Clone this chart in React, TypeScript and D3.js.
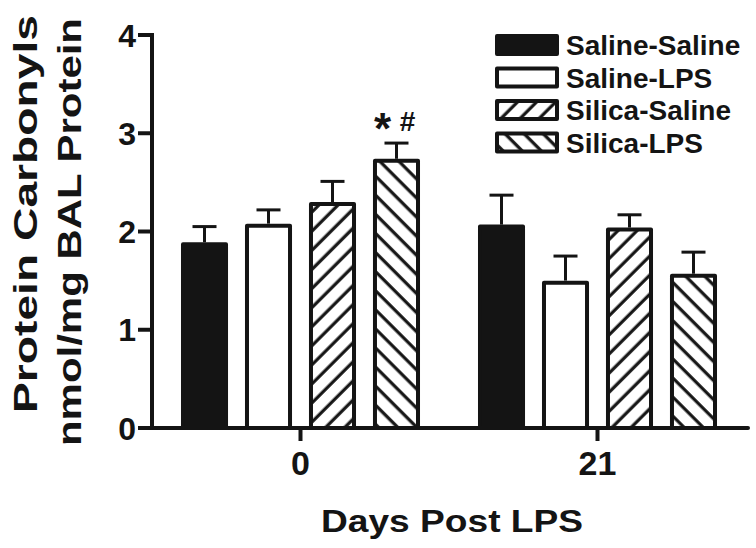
import React from 'react';
import * as d3 from 'd3';

const groups = ['0', '21'];
const series = ['Saline-Saline', 'Saline-LPS', 'Silica-Saline', 'Silica-LPS'];
const meansDay0 = [1.89, 2.08, 2.3, 2.74];
const meansDay21 = [2.07, 1.5, 2.04, 1.57];
const semDay0 = [0.16, 0.14, 0.21, 0.16];
const semDay21 = [0.3, 0.25, 0.13, 0.22];
const yTicks = [0, 1, 2, 3, 4];
const fills = ['solid', 'white', 'hatchUp', 'hatchDown'];
const yTitleLines = ['Protein Carbonyls', 'nmol/mg BAL Protein'];
const xTitle = 'Days Post LPS';

const W = 756;
const H = 548;
const FONT = "'Liberation Sans', Arial, Helvetica, sans-serif";
const INK = '#141414';

export default function App() {
  const x0 = d3.scaleBand<string>().domain(groups).range([152, 746]).padding(0);
  const x1 = d3
    .scaleBand<string>()
    .domain(series)
    .range([0, x0.bandwidth()])
    .paddingInner(0.265)
    .paddingOuter(0.453);
  const y = d3.scaleLinear().domain([0, 4]).range([428, 35]);

  const rows = groups.flatMap((g, gi) =>
    series.map((s, si) => ({
      g,
      s,
      si,
      v: gi === 0 ? meansDay0[si] : meansDay21[si],
      e: gi === 0 ? semDay0[si] : semDay21[si],
    }))
  );

  const fillOf = (si: number) =>
    fills[si] === 'solid' ? INK : fills[si] === 'white' ? '#fff' : `url(#${fills[si]})`;

  const bw = x1.bandwidth();
  const legendY = (i: number) => 45 + i * 32.5;

  return (
    <svg width={W} height={H} style={{ position: 'absolute', left: 0, top: 0, background: '#fff' }}>
      <defs>
        <pattern id="hatchUp" patternUnits="userSpaceOnUse" width={13.5} height={13.5} patternTransform="rotate(45)">
          <rect width={13.5} height={13.5} fill="#fff" />
          <line x1={6} y1={-2} x2={6} y2={16} stroke={INK} strokeWidth={3.2} />
        </pattern>
        <pattern id="hatchDown" patternUnits="userSpaceOnUse" width={13.5} height={13.5} patternTransform="rotate(-45)">
          <rect width={13.5} height={13.5} fill="#fff" />
          <line x1={6} y1={-2} x2={6} y2={16} stroke={INK} strokeWidth={3.2} />
        </pattern>
      </defs>

      {/* error bars */}
      {rows.map((r) => {
        const cx = (x0(r.g) as number) + (x1(r.s) as number) + bw / 2;
        return (
          <g key={`e-${r.g}-${r.s}`} stroke={INK} strokeWidth={3}>
            <line x1={cx} x2={cx} y1={y(r.v)} y2={y(r.v + r.e)} />
            <line x1={cx - 12} x2={cx + 12} y1={y(r.v + r.e)} y2={y(r.v + r.e)} />
          </g>
        );
      })}

      {/* bars */}
      {rows.map((r) => {
        const bx = (x0(r.g) as number) + (x1(r.s) as number);
        return (
          <rect
            key={`b-${r.g}-${r.s}`}
            x={bx + 2}
            y={y(r.v) + 2}
            width={bw - 4}
            height={y(0) - y(r.v) - 2}
            fill={fillOf(r.si)}
            stroke={INK}
            strokeWidth={4}
            strokeLinejoin="round"
          />
        );
      })}

      {/* annotation */}
      {(() => {
        const cx = (x0('0') as number) + (x1('Silica-LPS') as number) + bw / 2;
        return (
          <g fill={INK} fontFamily={FONT} fontWeight="bold">
            <text x={cx - 14} y={144} fontSize={44} textAnchor="middle">*</text>
            <text x={cx + 11} y={131} fontSize={28} textAnchor="middle">#</text>
          </g>
        );
      })()}

      {/* y axis */}
      <line x1={152} x2={152} y1={y(0) + 2} y2={y(4) - 2} stroke={INK} strokeWidth={4} />
      {yTicks.map((t) => (
        <g key={`yt-${t}`}>
          <line x1={138} x2={152} y1={y(t)} y2={y(t)} stroke={INK} strokeWidth={4} />
          <text
            x={136}
            y={y(t)}
            dy="0.36em"
            textAnchor="end"
            fontFamily={FONT}
            fontWeight="bold"
            fontSize={32}
            fill={INK}
          >
            {t}
          </text>
        </g>
      ))}

      {/* x axis */}
      <line x1={150} x2={748} y1={y(0)} y2={y(0)} stroke={INK} strokeWidth={4} strokeLinecap="round" />
      {groups.map((g) => {
        const cx = (x0(g) as number) + x0.bandwidth() / 2;
        return (
          <g key={`xt-${g}`}>
            <line x1={cx} x2={cx} y1={y(0)} y2={y(0) + 13} stroke={INK} strokeWidth={4} />
            <text x={cx} y={475} textAnchor="middle" fontFamily={FONT} fontWeight="bold" fontSize={34} fill={INK}>
              {g}
            </text>
          </g>
        );
      })}

      {/* axis titles */}
      <text
        x={452}
        y={532}
        textAnchor="middle"
        fontFamily={FONT}
        fontWeight="bold"
        fontSize={32}
        fill={INK}
        textLength={262}
        lengthAdjust="spacingAndGlyphs"
      >
        {xTitle}
      </text>
      <text
        transform="translate(37,214) rotate(-90)"
        textAnchor="middle"
        fontFamily={FONT}
        fontWeight="bold"
        fontSize={33}
        fill={INK}
        textLength={398}
        lengthAdjust="spacingAndGlyphs"
      >
        {yTitleLines[0]}
      </text>
      <text
        transform="translate(81,232) rotate(-90)"
        textAnchor="middle"
        fontFamily={FONT}
        fontWeight="bold"
        fontSize={33}
        fill={INK}
        textLength={428}
        lengthAdjust="spacingAndGlyphs"
      >
        {yTitleLines[1]}
      </text>

      {/* legend */}
      {series.map((s, i) => (
        <g key={`lg-${s}`}>
          <rect
            x={497}
            y={legendY(i) - 9}
            width={60}
            height={18}
            fill={fillOf(i)}
            stroke={INK}
            strokeWidth={4}
            strokeLinejoin="round"
          />
          <text
            x={566}
            y={legendY(i) + 10}
            fontFamily={FONT}
            fontWeight="bold"
            fontSize={28}
            fill={INK}
          >
            {s}
          </text>
        </g>
      ))}
    </svg>
  );
}
